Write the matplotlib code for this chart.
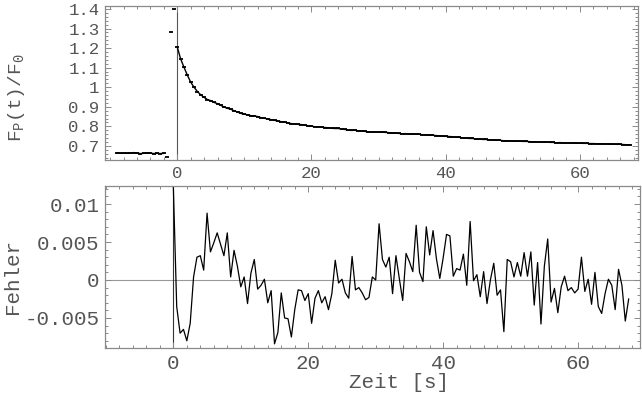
import matplotlib
matplotlib.use('Agg')
import matplotlib.pyplot as plt
import numpy as np
from matplotlib.ticker import FixedLocator, MultipleLocator, FixedFormatter

plt.rcParams['font.family'] = ['Liberation Mono', 'DejaVu Sans Mono']
plt.rcParams['mathtext.fontset'] = 'custom'
plt.rcParams['mathtext.rm'] = 'Liberation Mono'
plt.rcParams['mathtext.it'] = 'Liberation Mono'
plt.rcParams['mathtext.tt'] = 'Liberation Mono'

# ---------------- data ----------------
t_pre = [-9.0, -8.5, -8.0, -7.5, -7.0, -6.5, -6.0, -5.5, -5.0, -4.5, -4.0, -3.5, -3.0, -2.5, -2.0]
y_pre = [0.664, 0.662, 0.663, 0.662, 0.663, 0.666, 0.663, 0.661, 0.662, 0.664, 0.663, 0.661, 0.662, 0.661, 0.662]

t_jump = [-1.5, -1.0, -0.5]
y_jump = [0.642, 1.281, 1.398]

sample_step = 0.5
y_post = [
    1.205, 1.145, 1.102, 1.062, 1.026, 1.000, 0.978, 0.961, 0.948, 0.937,
    0.931, 0.922, 0.916, 0.907, 0.898, 0.892, 0.887, 0.879, 0.873, 0.866,
    0.862, 0.859, 0.854, 0.853, 0.850, 0.844, 0.841, 0.838, 0.834, 0.831,
    0.826, 0.824, 0.822, 0.817, 0.814, 0.811, 0.810, 0.809, 0.806, 0.803,
    0.801, 0.798, 0.798, 0.796, 0.794, 0.793, 0.790, 0.789, 0.789, 0.786,
    0.784, 0.781, 0.779, 0.780, 0.777, 0.776, 0.774, 0.772, 0.771, 0.771,
    0.770, 0.771, 0.769, 0.768, 0.765, 0.766, 0.764, 0.762, 0.763, 0.761,
    0.761, 0.760, 0.760, 0.757, 0.756, 0.755, 0.755, 0.753, 0.752, 0.750,
    0.749, 0.748, 0.747, 0.744, 0.744, 0.741, 0.741, 0.738, 0.738, 0.735,
    0.735, 0.733, 0.733, 0.731, 0.731, 0.729, 0.729, 0.727, 0.726, 0.726,
    0.725, 0.724, 0.724, 0.723, 0.723, 0.722, 0.721, 0.721, 0.719, 0.719,
    0.720, 0.718, 0.718, 0.716, 0.717, 0.716, 0.715, 0.715, 0.715, 0.714,
    0.714, 0.713, 0.713, 0.712, 0.712, 0.711, 0.711, 0.710, 0.710, 0.709,
    0.709, 0.708, 0.708, 0.707, 0.706, 0.706,
]

fehler = [
    0.0123, -0.0035, -0.0070, -0.0065, -0.0080, -0.0057, 0.0004, 0.0030, 0.0032, 0.0013,
    0.0088, 0.0037, 0.0049, 0.0062, 0.0047, 0.0032, 0.0062, 0.0004, 0.0039, 0.0018,
    -0.0009, 0.0004, -0.0031, 0.0009, 0.0027, -0.0012, -0.0007, 0.0001, -0.0030, -0.0014,
    -0.0084, -0.0069, -0.0017, -0.0050, -0.0051, -0.0075, -0.0039, -0.0013, -0.0014, -0.0027,
    -0.0018, -0.0057, -0.0024, -0.0014, -0.0030, -0.0022, -0.0039, -0.0018, 0.0026, -0.0004,
    0.0001, -0.0017, -0.0024, 0.0031, -0.0013, -0.0010, -0.0017, -0.0026, -0.0023, 0.0004,
    0.0000, 0.0074, 0.0027, 0.0017, 0.0030, -0.0018, 0.0032, 0.0002, -0.0027, 0.0035,
    0.0024, 0.0011, 0.0072, 0.0010, -0.0002, 0.0070, 0.0033, 0.0065, 0.0028, 0.0002,
    0.0029, 0.0060, 0.0058, 0.0005, 0.0015, 0.0013, 0.0034, -0.0007, 0.0077, -0.0001,
    0.0007, -0.0022, 0.0011, -0.0031, 0.0000, 0.0022, -0.0020, -0.0013, -0.0068, 0.0027,
    0.0024, 0.0004, 0.0023, 0.0005, 0.0036, 0.0005, 0.0037, -0.0033, 0.0023, -0.0058,
    0.0018, 0.0054, -0.0029, -0.0011, -0.0043, -0.0009, 0.0005, -0.0014, -0.0010, -0.0017,
    -0.0012, 0.0030, -0.0015, 0.0001, -0.0032, 0.0010, -0.0035, -0.0044, -0.0018, 0.0001,
    -0.0007, -0.0039, 0.0014, -0.0007, -0.0054, -0.0025,
]
t_post = np.arange(len(y_post)) * sample_step

top_yticks = [0.7, 0.8, 0.9, 1.0, 1.1, 1.2, 1.3, 1.4]
top_ylabels = ['0.7', '0.8', '0.9', '1', '1.1', '1.2', '1.3', '1.4']
bot_yticks = [-0.005, 0.0, 0.005, 0.01]
bot_ylabels = ['-0.005', '0', '0.005', '0.01']
xticks = [0, 20, 40, 60]
xlabels = ['0', '20', '40', '60']

# ---------------- figure ----------------
W, H = 642, 394
fig = plt.figure(figsize=(W / 100, H / 100), dpi=100)

def box(l, r, t, b):
    return [l / W, 1 - b / H, (r - l) / W, (b - t) / H]

ax1 = fig.add_axes(box(105, 638, 6, 160))
ax2 = fig.add_axes(box(105, 640, 186, 348))

frame_c = '#8a8a8a'
text_c = '#555555'

def style(ax, fs):
    for s in ax.spines.values():
        s.set_color(frame_c)
        s.set_linewidth(0.9)
    ax.tick_params(which='both', direction='in', top=True, right=True,
                   color=frame_c, labelcolor=text_c, labelsize=fs, width=0.7)
    ax.tick_params(which='major', length=4, pad=4)
    ax.tick_params(which='minor', length=2)

# top panel
ax1.axvline(0, color='#555555', lw=0.8, zorder=1)
mk = dict(color='black', marker='_', ms=3, mew=1.3)
ax1.plot(t_pre, y_pre, lw=1.0, **mk)
ax1.plot(t_jump, y_jump, ls='none', **mk)
ax1.plot(t_post, y_post, lw=1.0, **mk)
ax1.set_xlim(-10.77, 68.67)
ax1.set_ylim(0.628, 1.415)
ax1.yaxis.set_major_locator(FixedLocator(top_yticks))
ax1.yaxis.set_major_formatter(FixedFormatter(top_ylabels))
ax1.yaxis.set_minor_locator(MultipleLocator(0.02))
ax1.xaxis.set_major_locator(FixedLocator(xticks))
ax1.xaxis.set_major_formatter(FixedFormatter(xlabels))
ax1.xaxis.set_minor_locator(MultipleLocator(2))
style(ax1, 12.5)

# bottom panel
ax2.axhline(0, color='#999999', lw=0.8, zorder=1)
ax2.axvline(0, color='#333333', lw=0.8, zorder=1)
ax2.plot(t_post, fehler, color='black', lw=0.9)
ax2.set_xlim(-10.13, 69.18)
ax2.set_ylim(-0.00895, 0.01237)
ax2.yaxis.set_major_locator(FixedLocator(bot_yticks))
ax2.yaxis.set_major_formatter(FixedFormatter(bot_ylabels))
ax2.yaxis.set_minor_locator(MultipleLocator(0.001))
ax2.xaxis.set_major_locator(FixedLocator(xticks))
ax2.xaxis.set_major_formatter(FixedFormatter(xlabels))
ax2.xaxis.set_minor_locator(MultipleLocator(2))
style(ax2, 15)

fig.text(17 / W, 1 - 98 / H, r'$\mathrm{F_P(t)/F_0}$', rotation=90,
         ha='center', va='center', fontsize=14, color=text_c)
fig.text(12.5 / W, 1 - 276 / H, 'Fehler', rotation=90,
         ha='center', va='center', fontsize=15, color=text_c)
fig.text(399 / W, 1 - 383 / H, 'Zeit [s]',
         ha='center', va='center', fontsize=15, color=text_c)

fig.savefig('out.png', dpi=100)
